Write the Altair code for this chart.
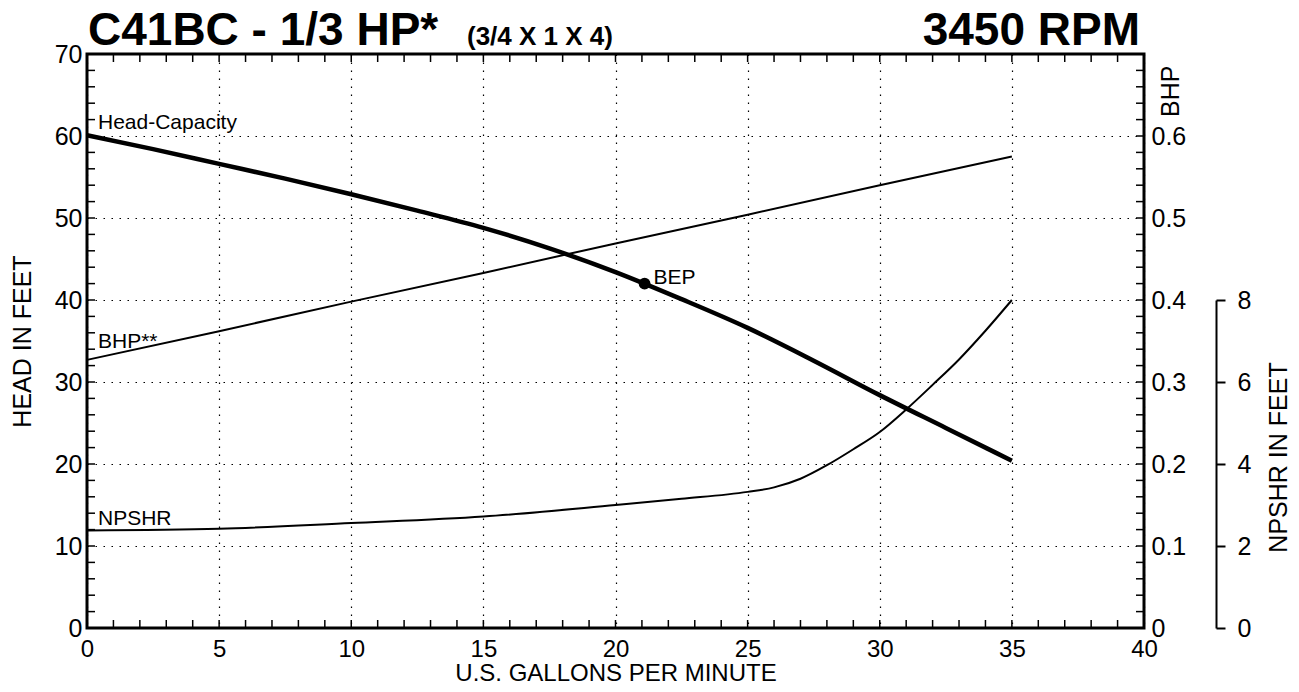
import altair as alt
import pandas as pd

# ---------------- data ----------------
gpm_head = [0, 2.5, 5, 7.5, 10, 12.5, 15, 17.5, 20, 22.5, 25, 27.5, 30, 32.5, 35]
head_ft = [60.1, 58.4, 56.6, 54.8, 52.9, 50.9, 48.8, 46.3, 43.4, 40.1, 36.6, 32.6, 28.4, 24.4, 20.4]

gpm_bhp = [0, 5, 10, 15, 20, 25, 30, 35]
bhp_hp = [0.327, 0.362, 0.398, 0.433, 0.469, 0.504, 0.540, 0.575]

gpm_npshr = [0, 5, 10, 15, 20, 22.5, 25, 26, 27, 28, 29, 30, 31, 32, 33, 34, 35]
npshr_ft = [2.38, 2.42, 2.56, 2.72, 3.0, 3.15, 3.32, 3.43, 3.64, 3.97, 4.36, 4.78, 5.33, 5.93, 6.55, 7.25, 8.0]

bep_gpm = [21.1]
bep_head = [42.0]

x_labels = [0, 5, 10, 15, 20, 25, 30, 35, 40]
head_labels = [0, 10, 20, 30, 40, 50, 60, 70]
bhp_labels = [0, 0.1, 0.2, 0.3, 0.4, 0.5, 0.6]
npshr_labels = [0, 2, 4, 6, 8]
x_minor = list(range(1, 40))
head_minor = list(range(2, 70, 2))
bhp_minor = [round(0.02 * i, 2) for i in range(1, 35)]

title_main = "C41BC - 1/3 HP*"
title_sub = "(3/4 X 1 X 4)"
title_rpm = "3450 RPM"

# ---------------- layout ----------------
W, H = 1057, 574
FONT = "Liberation Sans"
TICK = 8

xs = alt.Scale(domain=[0, 40], nice=False, zero=False)
hs = alt.Scale(domain=[0, 70], nice=False, zero=False)
bs = alt.Scale(domain=[0, 0.7], nice=False, zero=False)
ns = alt.Scale(domain=[0, 8], range=[H, H * 3 / 7], nice=False, zero=False)

x_axis = alt.Axis(
    values=x_labels, title="U.S. GALLONS PER MINUTE", grid=True,
    gridDash=[1.5, 6.5], gridColor="black", gridWidth=1.2,
    ticks=False, domain=False, labelPadding=9, titlePadding=0,
    labelFontSize=24, titleFontSize=24, labelFlush=False, labelOverlap=False,
)
head_axis = alt.Axis(
    orient="left", values=head_labels, title="HEAD IN FEET", grid=True,
    gridDash=[1.5, 6.5], gridColor="black", gridWidth=1.2,
    ticks=False, domain=False, labelPadding=5, titlePadding=19,
    labelFontSize=25, titleFontSize=25, labelFlush=False, labelOverlap=False,
)
bhp_axis = alt.Axis(
    orient="right", values=bhp_labels, format="~g", title="BHP", grid=False,
    ticks=False, domain=False, labelPadding=7,
    labelFontSize=25, titleFontSize=25, labelFlush=False, labelOverlap=False,
    titleAngle=270, titleAlign="right", titleBaseline="alphabetic",
    titleX=34, titleY=11,
)
npshr_axis = alt.Axis(
    orient="right", offset=72, values=npshr_labels, format="d", title="NPSHR IN FEET",
    grid=False, domain=True, domainColor="black", domainWidth=2,
    ticks=True, tickSize=9, tickWidth=2, tickColor="black", labelPadding=12,
    labelFontSize=25, titleFontSize=25, labelFlush=False, labelOverlap=False,
    titleAngle=270, titleAlign="center", titleBaseline="alphabetic",
    titleX=70, titleY=403,
)

# ---------------- head layer ----------------
head_df = pd.DataFrame({"gpm": gpm_head, "head": head_ft})
xm_df = pd.DataFrame({"gpm": x_minor})
hm_df = pd.DataFrame({"head": head_minor})
bep_df = pd.DataFrame({"gpm": bep_gpm, "head": bep_head, "lab": ["BEP"]})
head_lab_df = pd.DataFrame({"gpm": [gpm_head[0]], "head": [head_ft[0]], "lab": ["Head-Capacity"]})

X = alt.X("gpm:Q", scale=xs)
YH = alt.Y("head:Q", scale=hs)

head_line = alt.Chart(head_df).mark_line(
    color="black", strokeWidth=4.5, interpolate="monotone"
).encode(
    x=alt.X("gpm:Q", scale=xs, axis=x_axis),
    y=alt.Y("head:Q", scale=hs, axis=head_axis),
)
bottom_ticks = alt.Chart(xm_df).mark_rule(color="black", strokeWidth=1.5).encode(
    x=X, y=alt.value(H), y2=alt.value(H - TICK),
)
top_ticks = alt.Chart(xm_df).mark_rule(color="black", strokeWidth=1.5).encode(
    x=X, y=alt.value(0), y2=alt.value(TICK),
)
left_ticks = alt.Chart(hm_df).mark_rule(color="black", strokeWidth=1.5).encode(
    y=YH, x=alt.value(0), x2=alt.value(TICK),
)
bep_pt = alt.Chart(bep_df).mark_circle(color="black", size=140, opacity=1).encode(
    x=X, y=YH,
)
bep_txt = alt.Chart(bep_df).mark_text(
    font=FONT, fontSize=21, align="left", baseline="alphabetic", dx=9, dy=0, color="black"
).encode(x=X, y=YH, text="lab:N")
head_txt = alt.Chart(head_lab_df).mark_text(
    font=FONT, fontSize=21, align="left", baseline="alphabetic", dx=11, dy=-6, color="black"
).encode(x=X, y=YH, text="lab:N")
head_layer = alt.layer(head_line, bottom_ticks, top_ticks, left_ticks, bep_pt, bep_txt, head_txt)

# ---------------- BHP layer ----------------
bhp_df = pd.DataFrame({"gpm": gpm_bhp, "bhp": bhp_hp})
bm_df = pd.DataFrame({"bhp": bhp_minor})
bhp_lab_df = pd.DataFrame({"gpm": [gpm_bhp[0]], "bhp": [bhp_hp[0]], "lab": ["BHP**"]})
YB = alt.Y("bhp:Q", scale=bs)

bhp_line = alt.Chart(bhp_df).mark_line(color="black", strokeWidth=2).encode(
    x=X, y=alt.Y("bhp:Q", scale=bs, axis=bhp_axis),
)
right_ticks = alt.Chart(bm_df).mark_rule(color="black", strokeWidth=1.5).encode(
    y=YB, x=alt.value(W), x2=alt.value(W - TICK),
)
bhp_txt = alt.Chart(bhp_lab_df).mark_text(
    font=FONT, fontSize=21, align="left", baseline="alphabetic", dx=11, dy=-12, color="black"
).encode(x=X, y=YB, text="lab:N")
bhp_layer = alt.layer(bhp_line, right_ticks, bhp_txt)

# ---------------- NPSHR layer ----------------
npshr_df = pd.DataFrame({"gpm": gpm_npshr, "npshr": npshr_ft})
npshr_lab_df = pd.DataFrame({"gpm": [gpm_npshr[0]], "npshr": [npshr_ft[0]], "lab": ["NPSHR"]})
YN = alt.Y("npshr:Q", scale=ns)

npshr_line = alt.Chart(npshr_df).mark_line(
    color="black", strokeWidth=2, interpolate="monotone"
).encode(
    x=X, y=alt.Y("npshr:Q", scale=ns, axis=npshr_axis),
)
npshr_txt = alt.Chart(npshr_lab_df).mark_text(
    font=FONT, fontSize=21, align="left", baseline="alphabetic", dx=11, dy=-5, color="black"
).encode(x=X, y=YN, text="lab:N")
npshr_layer = alt.layer(npshr_line, npshr_txt)

# ---------------- titles ----------------
t_df = pd.DataFrame({"a": [title_main], "b": [title_sub], "c": [title_rpm]})
t_main = alt.Chart(t_df).mark_text(
    font=FONT, fontSize=46, fontWeight="bold", align="left", baseline="alphabetic", color="black"
).encode(x=alt.value(1), y=alt.value(-9), text="a:N")
t_sub = alt.Chart(t_df).mark_text(
    font=FONT, fontSize=26, fontWeight="bold", align="left", baseline="alphabetic", color="black"
).encode(x=alt.value(380), y=alt.value(-9), text="b:N")
t_rpm = alt.Chart(t_df).mark_text(
    font=FONT, fontSize=46, fontWeight="bold", align="right", baseline="alphabetic", color="black"
).encode(x=alt.value(W - 4), y=alt.value(-9), text="c:N")
title_layer = alt.layer(t_main, t_sub, t_rpm)

chart = alt.layer(head_layer, bhp_layer, npshr_layer, title_layer).resolve_scale(
    y="independent"
).properties(
    width=W, height=H,
    autosize=alt.AutoSizeParams(type="none"),
    padding={"left": 79, "top": 46, "right": 147, "bottom": 56},
).configure(
    font=FONT,
).configure_axis(
    labelColor="black", titleColor="black", labelFont=FONT, titleFont=FONT,
    titleFontWeight="normal",
).configure_view(
    stroke="black", strokeWidth=3,
)

chart.save("out.html", embed_options={"renderer": "svg", "actions": False})
